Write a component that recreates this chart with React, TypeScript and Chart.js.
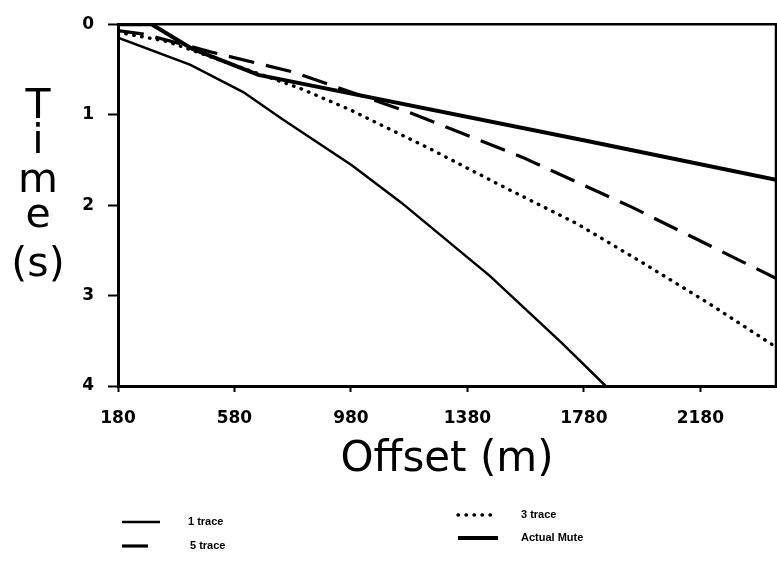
import React, { useEffect, useRef } from "react";
import { Chart, registerables } from "chart.js";

Chart.register(...registerables);

// ---- data ----
const xTickValues = [180, 580, 980, 1380, 1780, 2180];
const yTickValues = [0, 1, 2, 3, 4];
const xMin = 180;
const xMax = 2440;
const yMin = 0;
const yMax = 4;

const seriesNames = ["1 trace", "5 trace", "3 trace", "Actual Mute"];

const trace1Offset = [180, 429, 610, 745, 983, 1152, 1456, 1703, 1855];
const trace1Time = [0.15, 0.45, 0.75, 1.05, 1.56, 1.97, 2.78, 3.52, 4.0];

const trace5Offset = [180, 270, 503, 783, 1176, 1568, 1943, 2440];
const trace5Time = [0.07, 0.11, 0.31, 0.53, 0.97, 1.47, 2.02, 2.81];

const trace3Offset = [180, 348, 806, 980, 1259, 1487, 1759, 1983, 2211, 2440];
const trace3Time = [0.09, 0.19, 0.71, 0.95, 1.39, 1.77, 2.21, 2.64, 3.09, 3.57];

const muteOffset = [180, 295, 434, 662, 1775, 2440];
const muteTime = [0, 0, 0.27, 0.56, 1.28, 1.72];

const yTitleParts = ["T", "i", "m", "e", "(s)"];
const xTitle = "Offset (m)";

const pts = (xs: number[], ys: number[]) => xs.map((x, i) => ({ x, y: ys[i] }));

const TICK_FONT = { family: "'DejaVu Sans'", size: 17, weight: "bold" as const };

const decorPlugin = {
  id: "decor",
  afterDraw(chart: any) {
    const { ctx, chartArea } = chart;
    const { left, right, top, bottom } = chartArea;
    ctx.save();
    // frame (top and right)
    ctx.strokeStyle = "#000";
    ctx.lineWidth = 2.5;
    ctx.setLineDash([]);
    ctx.beginPath();
    ctx.moveTo(left, top);
    ctx.lineTo(right, top);
    ctx.lineTo(right, bottom);
    ctx.stroke();

    // stacked y title
    ctx.fillStyle = "#000";
    ctx.font = "41px 'DejaVu Sans'";
    ctx.textAlign = "center";
    ctx.textBaseline = "alphabetic";
    const baselines = [118, 153, 192, 227, 276];
    yTitleParts.forEach((s, i) => ctx.fillText(s, 38, baselines[i]));

    // legend (2 x 2)
    const slots = [
      { x: 122, y: 522, len: 38 },
      { x: 122, y: 546, len: 28 },
      { x: 458, y: 515, len: 40 },
      { x: 458, y: 538, len: 40 },
    ];
    const textX = [188, 190, 521, 521];
    ctx.font = "bold 11px 'Liberation Sans'";
    ctx.textAlign = "left";
    ctx.textBaseline = "middle";
    chart.data.datasets.forEach((ds: any, i: number) => {
      const s = slots[i];
      ctx.save();
      ctx.strokeStyle = "#000";
      ctx.lineWidth = ds.borderWidth;
      ctx.lineCap = ds.borderCapStyle || "butt";
      ctx.setLineDash(ds.borderDash || []);
      ctx.beginPath();
      ctx.moveTo(s.x, s.y);
      ctx.lineTo(s.x + s.len, s.y);
      ctx.stroke();
      ctx.restore();
      ctx.fillText(ds.label, textX[i], s.y);
    });
    ctx.restore();
  },
};

export default function App() {
  const ref = useRef<HTMLCanvasElement | null>(null);
  useEffect(() => {
    if (!ref.current) return;
    const chart = new Chart(ref.current, {
      type: "line",
      data: {
        datasets: [
          {
            label: seriesNames[0],
            data: pts(trace1Offset, trace1Time),
            borderColor: "#000",
            borderWidth: 2.5,
            pointRadius: 0,
            tension: 0,
            fill: false,
          },
          {
            label: seriesNames[1],
            data: pts(trace5Offset, trace5Time),
            borderColor: "#000",
            borderWidth: 3.2,
            borderDash: [26, 12],
            pointRadius: 0,
            tension: 0,
            fill: false,
          },
          {
            label: seriesNames[2],
            data: pts(trace3Offset, trace3Time),
            borderColor: "#000",
            borderWidth: 3.4,
            borderDash: [0.5, 7.5],
            borderCapStyle: "round",
            pointRadius: 0,
            tension: 0,
            fill: false,
          },
          {
            label: seriesNames[3],
            data: pts(muteOffset, muteTime),
            borderColor: "#000",
            borderWidth: 4,
            pointRadius: 0,
            tension: 0,
            fill: false,
          },
        ],
      } as any,
      options: {
        responsive: false,
        animation: false,
        events: [],
        layout: { padding: { top: 17, right: 1, left: 0, bottom: 0 } },
        plugins: {
          legend: { display: false },
          tooltip: { enabled: false },
          title: { display: false },
        },
        scales: {
          x: {
            type: "linear",
            min: xMin,
            max: xMax,
            afterBuildTicks: (s: any) => {
              s.ticks = xTickValues.map((v) => ({ value: v }));
            },
            afterFit: (s: any) => {
              s.height = 177;
            },
            grid: {
              display: true,
              drawOnChartArea: false,
              drawTicks: true,
              tickLength: 6,
              tickWidth: 2,
              tickColor: "#000",
            },
            border: { display: true, color: "#000", width: 3 },
            ticks: {
              color: "#000",
              font: TICK_FONT,
              padding: 16,
              maxRotation: 0,
              autoSkip: false,
              callback: (v: any) => String(v),
            },
            title: {
              display: true,
              text: xTitle,
              color: "#000",
              font: { family: "'DejaVu Sans'", size: 42, weight: "normal" },
              padding: { top: 0, bottom: 78 },
            },
          },
          y: {
            type: "linear",
            min: yMin,
            max: yMax,
            reverse: true,
            afterBuildTicks: (s: any) => {
              s.ticks = yTickValues.map((v) => ({ value: v }));
            },
            afterFit: (s: any) => {
              s.width = 118;
            },
            grid: {
              display: true,
              drawOnChartArea: false,
              drawTicks: true,
              tickLength: 10,
              tickWidth: 2,
              tickColor: "#000",
            },
            border: { display: true, color: "#000", width: 3 },
            ticks: {
              color: "#000",
              font: TICK_FONT,
              padding: 14,
              autoSkip: false,
              callback: (v: any) => String(v),
            },
          },
        },
      } as any,
      plugins: [decorPlugin],
    });
    return () => chart.destroy();
  }, []);

  return (
    <div style={{ position: "absolute", left: 0, top: 0, width: 777, height: 563, background: "#fff" }}>
      <canvas ref={ref} width={777} height={563} />
    </div>
  );
}
